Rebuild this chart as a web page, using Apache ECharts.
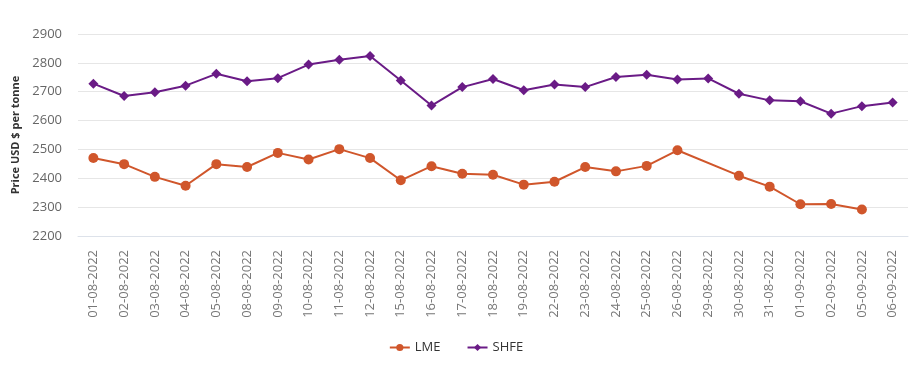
<!DOCTYPE html>
<html>
<head>
<meta charset="utf-8">
<script src="https://cdn.jsdelivr.net/npm/echarts@6/dist/echarts.min.js"></script>
<style>
  html, body { margin: 0; padding: 0; background: #fff; }
  #chart { width: 912px; height: 365px; }
</style>
</head>
<body>
<div id="chart"></div>
<script>
// trading days
const dates = [
  '01-08-2022', '02-08-2022', '03-08-2022', '04-08-2022', '05-08-2022', '08-08-2022',
  '09-08-2022', '10-08-2022', '11-08-2022', '12-08-2022', '15-08-2022', '16-08-2022',
  '17-08-2022', '18-08-2022', '19-08-2022', '22-08-2022', '23-08-2022', '24-08-2022',
  '25-08-2022', '26-08-2022', '29-08-2022', '30-08-2022', '31-08-2022', '01-09-2022',
  '02-09-2022', '05-09-2022', '06-09-2022'
]
// LME has no price on 29-08 and 06-09
const lme = [
  2470, 2449, 2405, 2374, 2449, 2439, 2488, 2465, 2501, 2470, 2393, 2442,
  2416, 2412, 2378, 2388, 2439, 2424, 2443, 2497, null, 2409, 2371, 2310,
  2311, 2292, null
]
const shfe = [
  2728, 2685, 2698, 2721, 2762, 2736, 2747, 2794, 2811, 2824, 2739, 2652,
  2716, 2744, 2705, 2725, 2716, 2751, 2759, 2742, 2746, 2693, 2670, 2667,
  2624, 2650, 2663
]
const yMin = 2200
const yMax = 2900
const yStep = 100

const chart = echarts.init(document.getElementById('chart'))
chart.setOption({
  animation: false,
  textStyle: { fontFamily: 'Open Sans' },
  grid: { left: 78, right: 4, top: 34, bottom: 129 },
  legend: {
    bottom: 6,
    left: 'center',
    itemGap: 26,
    itemWidth: 20,
    itemHeight: 9,
    textStyle: { fontSize: 13, color: '#333' },
    data: ['LME', 'SHFE']
  },
  xAxis: {
    type: 'category',
    data: dates,
    boundaryGap: true,
    axisLine: { lineStyle: { color: '#dde2ea' } },
    axisTick: { length: 10, lineStyle: { color: '#dde2ea' } },
    axisLabel: {
      rotate: 90,
      interval: 0,
      fontSize: 13,
      color: '#777',
      margin: 14
    }
  },
  yAxis: {
    type: 'value',
    min: yMin,
    max: yMax,
    interval: yStep,
    name: 'Price USD $ per tonne',
    nameLocation: 'middle',
    nameGap: 52,
    nameTextStyle: { fontSize: 11, fontWeight: 'bold', color: '#333' },
    axisLine: { show: false },
    axisTick: { show: false },
    axisLabel: {
      fontSize: 13,
      color: '#666',
      margin: 16,
      formatter: v => String(v)
    },
    splitLine: { lineStyle: { color: '#e6e6e6' } }
  },
  series: [
    {
      name: 'LME',
      type: 'line',
      data: lme,
      connectNulls: true,
      symbol: 'circle',
      symbolSize: 10,
      lineStyle: { width: 2, color: '#d0562b' },
      itemStyle: { color: '#d0562b' }
    },
    {
      name: 'SHFE',
      type: 'line',
      data: shfe,
      symbol: 'diamond',
      symbolSize: 10,
      lineStyle: { width: 2, color: '#6a1b86' },
      itemStyle: { color: '#6a1b86' }
    }
  ]
})
</script>
</body>
</html>
